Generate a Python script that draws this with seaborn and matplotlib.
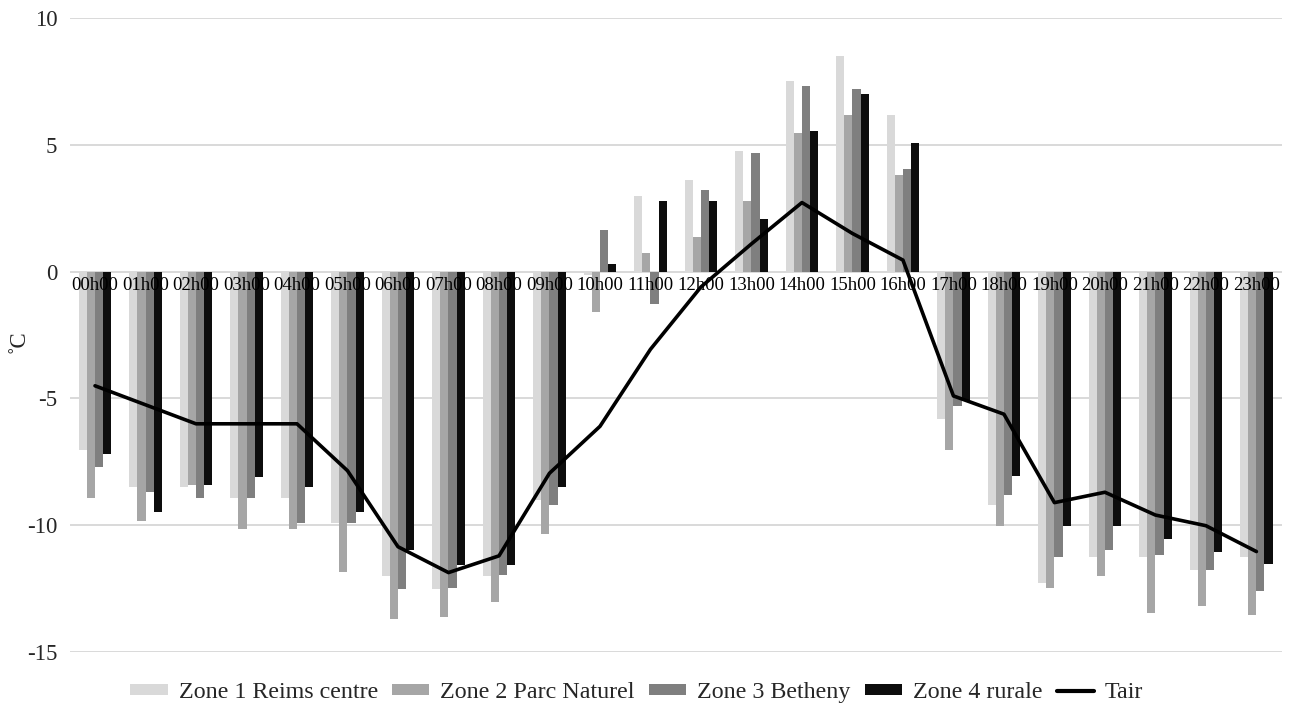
import numpy as np
import pandas as pd
import matplotlib
matplotlib.use("Agg")
import matplotlib.pyplot as plt
from matplotlib.patches import Patch
from matplotlib.lines import Line2D
import seaborn as sns

hours = ["00h00", "01h00", "02h00", "03h00", "04h00", "05h00", "06h00", "07h00",
         "08h00", "09h00", "10h00", "11h00", "12h00", "13h00", "14h00", "15h00",
         "16h00", "17h00", "18h00", "19h00", "20h00", "21h00", "22h00", "23h00"]

zone1 = [-7.03, -8.48, -8.48, -8.94, -8.94, -9.9, -12.0, -12.53, -12.0, -9.0, -0.13, 2.98,
         3.61, 4.77, 7.53, 8.5, 6.17, -5.83, -9.2, -12.27, -11.24, -11.24, -11.77, -11.24]
zone2 = [-8.94, -9.83, -8.43, -10.14, -10.14, -11.83, -13.71, -13.61, -13.04, -10.36, -1.58, 0.75,
         1.38, 2.8, 5.48, 6.17, 3.82, -7.03, -10.03, -12.46, -12.0, -13.47, -13.17, -13.54]
zone3 = [-7.72, -8.68, -8.94, -8.94, -9.9, -9.9, -12.53, -12.46, -11.96, -9.2, 1.64, -1.28,
         3.24, 4.7, 7.33, 7.2, 4.07, -5.29, -8.81, -11.24, -10.98, -11.17, -11.77, -12.6]
zone4 = [-7.2, -9.47, -8.43, -8.11, -8.5, -9.49, -10.98, -11.57, -11.57, -8.5, 0.3, 2.8,
         2.8, 2.07, 5.56, 7.03, 5.08, -5.06, -8.05, -10.03, -10.03, -10.54, -11.06, -11.54]
tair = [-4.5, -5.25, -6.0, -6.0, -6.0, -7.85, -10.85, -11.87, -11.21, -7.95, -6.1, -3.06,
        -0.6, 1.1, 2.73, 1.51, 0.46, -4.9, -5.62, -9.11, -8.7, -9.6, -10.02, -11.04]

zone_names = ["Zone 1 Reims centre", "Zone 2 Parc Naturel", "Zone 3 Betheny", "Zone 4 rurale"]
zone_colors = ["#d9d9d9", "#a6a6a6", "#7f7f7f", "#0d0d0d"]

frames = []
for name, vals in zip(zone_names, [zone1, zone2, zone3, zone4]):
    frames.append(pd.DataFrame({"heure": hours, "zone": name, "temp": vals}))
df = pd.concat(frames, ignore_index=True)

sns.set_theme(style="white")
plt.rcParams["font.family"] = ["Liberation Serif", "DejaVu Serif"]

fig = plt.figure(figsize=(12.92, 7.04), dpi=100)
ax = fig.add_axes([0.054, 0.074, 0.938, 0.9])

sns.barplot(data=df, x="heure", y="temp", hue="zone", hue_order=zone_names,
            order=hours, palette=dict(zip(zone_names, zone_colors)),
            saturation=1, width=0.64, gap=0, errorbar=None, legend=False,
            linewidth=0, ax=ax, zorder=3)

sns.lineplot(x=np.arange(len(hours)), y=tair, color="black", linewidth=2.6,
             ax=ax, zorder=6)

ax.set_ylim(-15, 10)
ax.set_xlim(-0.5, len(hours) - 0.5)
ax.set_yticks([10, 5, 0, -5, -10, -15])
ax.set_yticklabels(["10", "5", "0", "-5", "-10", "-15"])
ax.yaxis.grid(True, color="#d9d9d9", linewidth=1.4, zorder=0)
ax.set_axisbelow(True)
for s in ax.spines.values():
    s.set_visible(False)
ax.tick_params(axis="y", length=0, pad=9, labelsize=16.5)
ax.tick_params(axis="x", length=0, labelbottom=False)
ax.set_xlabel("")
ax.set_ylabel("˚C", fontsize=16.5)
ax.yaxis.set_label_coords(-0.033, 0.49)

# hour labels sit just under the zero line, over the bars
for i, h in enumerate(hours):
    ax.text(i, -0.22, h, ha="center", va="top", fontsize=13.5, color="black", zorder=5)

handles = [Patch(facecolor=c, edgecolor="none") for c in zone_colors]
handles.append(Line2D([0], [0], color="black", linewidth=3))
fig.legend(handles, zone_names + ["Tair"], loc="lower center",
           bbox_to_anchor=(0.493, -0.03), ncol=5, frameon=False, fontsize=17.3,
           handlelength=1.55, handleheight=0.33, handletextpad=0.45,
           columnspacing=0.6)

fig.savefig("out.png", dpi=100)
